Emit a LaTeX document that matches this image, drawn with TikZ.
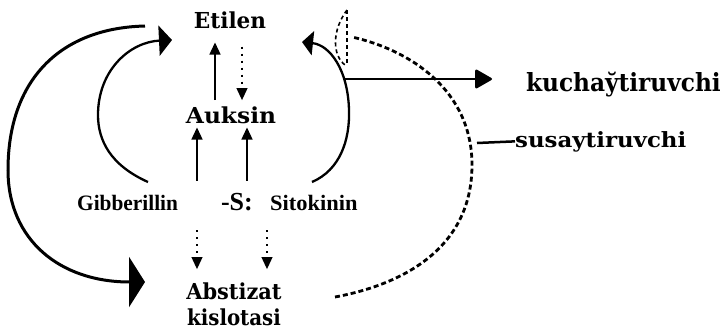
\documentclass[tikz,border=0pt]{standalone}
\usepackage{fontspec}
\usepackage{graphicx}
\setmainfont{DejaVu Serif}
\newfontfamily\tmsfont{Liberation Serif}
\usetikzlibrary{arrows.meta}

% size (pt), horizontal stretch, text
\newcommand{\sizedtext}[3]{{\fontsize{#1}{#1}\selectfont\scalebox{#2}[1]{#3}}}

\begin{document}
\begin{tikzpicture}[x=1pt,y=-1pt,
  lbl/.style={inner sep=0pt, anchor=base, font=\bfseries},
  tlbl/.style={inner sep=0pt, font=\tmsfont\bfseries},
  uparr/.style={line width=1.4pt, -{Triangle[length=12pt,width=11pt]}},
  dnarr/.style={line width=1.1pt, dash pattern=on 2pt off 5pt, -{Triangle[length=12pt,width=11pt]}},
  bigarc/.style={line width=3pt, -{Triangle[length=16pt,width=50pt]}},
  midarc/.style={line width=2.3pt},
  inhib/.style={line width=2.8pt, dash pattern=on 5pt off 3pt},
  thindash/.style={line width=1.6pt, dash pattern=on 4pt off 3pt}
]
\useasboundingbox (0,0) rectangle (724,333);

% hormone labels
\node[lbl] (eti) at (230,28) {\sizedtext{22}{0.98}{Etilen}};
\node[lbl] (auk) at (231,123) {\sizedtext{22}{1.06}{Auksin}};
\node[lbl, align=center] (abs) at (234,325)
  {\sizedtext{22}{0.95}{Abstizat}\\[7pt]\sizedtext{22}{0.9}{kislotasi}};
\node[tlbl, anchor=base west] (gib) at (77,210) {\sizedtext{22}{0.97}{Gibberillin}};
\node[tlbl, anchor=base east] (ss) at (253,210) {\sizedtext{26}{1}{-S:}};
\node[tlbl, anchor=base west] (sit) at (270,210) {\sizedtext{22}{1.02}{Sitokinin}};

% legend labels
\node[lbl, anchor=base east] (kuch) at (721,91) {\sizedtext{25}{0.93}{kuchay̆tiruvchi}};
\node[lbl, anchor=base west] (sus) at (515,147) {\sizedtext{21}{1.09}{susaytiruvchi}};

% column guides for the vertical arrows
\coordinate (c1) at (215,0);
\coordinate (c2) at (242,0);
\coordinate (c3) at (197,0);
\coordinate (c4) at (247,0);
\coordinate (c5) at (267,0);

% short vertical arrows
\draw[uparr, shorten <=6pt, shorten >=14pt] (auk.north -| c1) -- (eti.south -| c1);
\draw[dnarr, shorten <=18pt, shorten >=6pt] (eti.south -| c2) -- (auk.north -| c2);
\draw[uparr, shorten <=14pt, shorten >=4pt] (gib.north -| c3) -- (auk.south -| c3);
\draw[uparr, shorten <=14pt, shorten >=4pt] (sit.north -| c4) -- (auk.south -| c4);
\draw[dnarr, shorten <=20pt, shorten >=14pt] (gib.south -| c3) -- (abs.north -| c3);
\draw[dnarr, shorten <=20pt, shorten >=14pt] (sit.south -| c5) -- (abs.north -| c5);

% end points of the long curved connectors
\coordinate (outS) at (145,26);
\coordinate (outE) at (145,282);
\coordinate (inLS) at (148,182);
\coordinate (inLE) at (172,40);
\coordinate (inRS) at (312,182);
\coordinate (inRE) at (302,42);
\coordinate (hS) at (343,79);
\coordinate (hE) at (492,79);
\coordinate (dS) at (335,297);
\coordinate (dE) at (352,37);
\coordinate (sailT) at (347,10);
\coordinate (sailB) at (347,65);
\coordinate (sailC) at (345,65);
\coordinate (susS) at (477,143);

% Etilen -> Abstizat kislotasi
\draw[bigarc] (outS) .. controls (60,28) and (8,80) .. (8,170)
  .. controls (8,240) and (60,282) .. (outE);
% Gibberillin side -> Etilen
\draw[midarc, -{Triangle[length=13pt,width=30pt]}] (inLS) .. controls (110,165) and (98,140) .. (98,115)
  .. controls (98,70) and (130,42) .. (inLE);
% Sitokinin side -> Etilen
\draw[midarc, -{Triangle[length=11pt,width=24pt]}] (inRS) .. controls (340,170) and (350,140) .. (349,110)
  .. controls (348,70) and (330,45) .. (inRE);
% promoting legend arrow
\draw[midarc, -{Triangle[length=18pt,width=20pt,round]}] (hS) -- (hE);

% inhibiting (dashed) loop from Abstizat kislotasi
\draw[inhib] (dS) .. controls (400,285) and (472,250) .. (472,165)
  .. controls (472,90) and (410,50) .. (dE);
\draw[thindash] (sailT) -- (sailB);
\draw[thindash] (sailT) .. controls (332,30) and (332,55) .. (sailC);

% inhibiting legend stroke
\draw[line width=2.5pt] (susS) -- (sus.west);
\end{tikzpicture}
\end{document}
